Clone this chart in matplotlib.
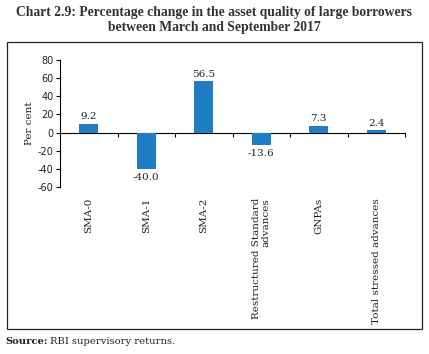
import matplotlib
matplotlib.use("Agg")
import matplotlib.pyplot as plt
from matplotlib.patches import Rectangle

categories = ["SMA-0", "SMA-1", "SMA-2", "Restructured Standard\nadvances", "GNPAs", "Total stressed advances"]
values = [9.2, -40.0, 56.5, -13.6, 7.3, 2.4]
yticks = [-60, -40, -20, 0, 20, 40, 60, 80]

W, H = 429, 354
fig = plt.figure(figsize=(W/100, H/100), dpi=100)

def fx(px): return px / W
def fy(py): return 1 - py / H

ax = fig.add_axes([fx(60), fy(187), fx(405) - fx(60), fy(60) - fy(187)])
x = list(range(len(categories)))
bars = ax.bar(x, values, width=0.33, color="#1f7dc3", zorder=3)
ax.set_xlim(-0.5, len(categories) - 0.5)
ax.set_ylim(-60, 80)
ax.set_yticks(yticks)
ax.set_yticklabels([str(v) for v in yticks], fontsize=7, family="DejaVu Sans", color="#222222")
ax.tick_params(axis="y", direction="out", length=3, width=0.8, pad=1.5)
ax.spines["top"].set_visible(False)
ax.spines["right"].set_visible(False)
ax.spines["bottom"].set_position(("data", 0))
ax.spines["left"].set_linewidth(0.8)
ax.spines["bottom"].set_linewidth(0.8)
ax.set_xticks([i + 0.5 for i in x])
ax.set_xticklabels([])
ax.tick_params(axis="x", direction="out", length=3, width=0.8)

for xi, v in zip(x, values):
    if v >= 0:
        ax.annotate(f"{v:.1f}", (xi, v), xytext=(0, 2), textcoords="offset points",
                    ha="center", va="bottom", fontsize=7.5, family="DejaVu Serif", color="#222222")
    else:
        ax.annotate(f"{v:.1f}", (xi, v), xytext=(0, -3), textcoords="offset points",
                    ha="center", va="top", fontsize=7.5, family="DejaVu Serif", color="#222222")

for xi, c in zip(x, categories):
    ax.annotate(c, (xi, 0), xycoords=("data", "axes fraction"), xytext=(0, -8),
                textcoords="offset points", rotation=90, ha="center", va="top",
                multialignment="right", fontsize=7.5, family="DejaVu Serif", color="#222222")

ax.set_ylabel("Per cent", fontsize=7.5, family="DejaVu Serif", color="#222222", labelpad=3)

fig.text(0.5, fy(20), "Chart 2.9: Percentage change in the asset quality of large borrowers\nbetween March and September 2017",
         ha="center", va="center", fontsize=9.8, fontweight="bold", family="Liberation Serif",
         color="#333333", linespacing=1.15)

fig.patches.append(Rectangle((fx(7), fy(329)), fx(422) - fx(7), fy(42) - fy(329),
                             transform=fig.transFigure, fill=False, edgecolor="#222222", linewidth=0.9))

src = fig.text(fx(5), fy(342), "Source:", ha="left", va="center", fontsize=7.2,
               fontweight="bold", family="DejaVu Serif", color="#222222")
fig.canvas.draw()
bb = src.get_window_extent(renderer=fig.canvas.get_renderer())
fig.text(fx(bb.x1 + 3), fy(342), "RBI supervisory returns.", ha="left", va="center", fontsize=7.2,
         family="DejaVu Serif", color="#222222")

fig.savefig("out.png", dpi=100)
